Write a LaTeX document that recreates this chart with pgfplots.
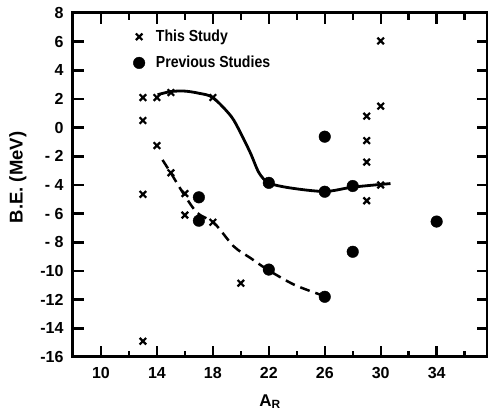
\documentclass[border=0pt]{standalone}
\usepackage{fontspec}
\setmainfont{Liberation Sans}
\newfontfamily\legfont{Liberation Sans}[FakeStretch=0.88]
\usepackage{pgfplots}
\pgfplotsset{compat=1.18}
\begin{document}
\begin{tikzpicture}
\path[use as bounding box] (-73pt,-55pt) rectangle (415pt,357pt);
\begin{axis}[
  scale only axis, clip=false,
  width=414pt, height=344pt,
  xmin=8, xmax=37.6, ymin=-16, ymax=8,
  axis line style={line width=3pt},
  xtick={10,14,18,22,26,30,34},
  xticklabels={10,14,18,22,26,30,34},
  ytick={-16,-14,-12,-10,-8,-6,-4,-2,0,2,4,6,8},
  yticklabels={-16,-14,-12,-10,- 8,- 6,- 4,- 2,0,2,4,6,8},
  tick align=inside,
  major tick length=0pt,
  tick label style={font=\fontsize{16}{18}\selectfont\bfseries},
  yticklabel style={xshift=-6pt},
  xticklabel style={yshift=-7pt},
  xlabel={A\textsubscript{R}},
  ylabel={B.E. (MeV)},
  xlabel style={at={(axis description cs:0.476,-0.13)}, anchor=center, font=\fontsize{17}{19}\selectfont\bfseries},
  ylabel style={at={(axis description cs:-0.133,0.522)}, anchor=center, font=\fontsize{18.5}{20}\selectfont\bfseries},
  legend style={draw=none, fill=none, at={(axis description cs:0.138,0.962)}, anchor=north west,
    font=\fontsize{16}{18}\selectfont\legfont\bfseries, row sep=9pt,
    /tikz/every odd column/.append style={column sep=9pt}},
  legend cell align=left,
  legend image code/.code={\draw[#1] plot coordinates {(0.15cm,0cm)};},
]
\addplot[only marks, mark=x, mark size=4.6pt, mark options={line width=2.2pt}, black] coordinates {
(13,2.1) (14,2.1) (15,2.45) (18,2.1) (13,0.5) (14,-1.25) (15,-3.15) (13,-4.65)
(16,-4.6) (16,-6.1) (18,-6.6) (20,-10.85) (13,-14.9) (30,6.05) (30,1.5) (29,0.8)
(29,-0.9) (29,-2.4) (30,-4.0) (29,-5.1)
};
\addlegendentry{This Study}
\addplot[only marks, mark=*, mark size=5.8pt, black] coordinates {
(17,-4.86) (17,-6.49) (22,-3.85) (26,-0.63) (26,-4.47) (28,-4.07) (28,-8.66)
(22,-9.9) (26,-11.8) (34,-6.55)
};
\addlegendentry{Previous Studies}
\addplot[forget plot, smooth, line width=2.8pt, black] coordinates {
(14.05,2.3) (15,2.52) (16,2.55) (17,2.4) (18,2.1) (19.3,0.8) (20,-0.4) (20.7,-1.8)
(21.3,-3.15) (22,-3.85) (23.5,-4.2) (26,-4.45) (28,-4.15) (30.7,-3.9)
};
\addplot[forget plot, smooth, line width=2.5pt, black, dash pattern=on 10pt off 6pt] coordinates {
(14.4,-2.25) (15,-3.17) (15.95,-4.68) (16.9,-5.96) (18.1,-6.66) (19.5,-8.29)
(20.7,-9.1) (21.9,-9.9) (23.8,-10.95) (25.7,-11.66) (26,-11.8)
};
\draw[line width=3pt] (rel axis cs:0,0) rectangle (rel axis cs:1,1);
\pgfplotsinvokeforeach{10,14,18,22,26,30,34}{
  \draw[line width=2.4pt] (axis cs:#1,-16) -- ++(0pt,11pt);
  \draw[line width=2.4pt] (axis cs:#1,8) -- ++(0pt,-11pt);
}
\pgfplotsinvokeforeach{12,16,20,24,28,32,36}{
  \draw[line width=2.4pt] (axis cs:#1,-16) -- ++(0pt,6pt);
  \draw[line width=2.4pt] (axis cs:#1,8) -- ++(0pt,-7pt);
}
\pgfplotsinvokeforeach{-14,-12,-10,-8,-6,-4,-2,0,2,4,6}{
  \draw[line width=2.4pt] (axis cs:8,#1) -- ++(11pt,0pt);
  \draw[line width=2.4pt] (axis cs:37.6,#1) -- ++(-10pt,0pt);
}
\end{axis}
\end{tikzpicture}
\end{document}
